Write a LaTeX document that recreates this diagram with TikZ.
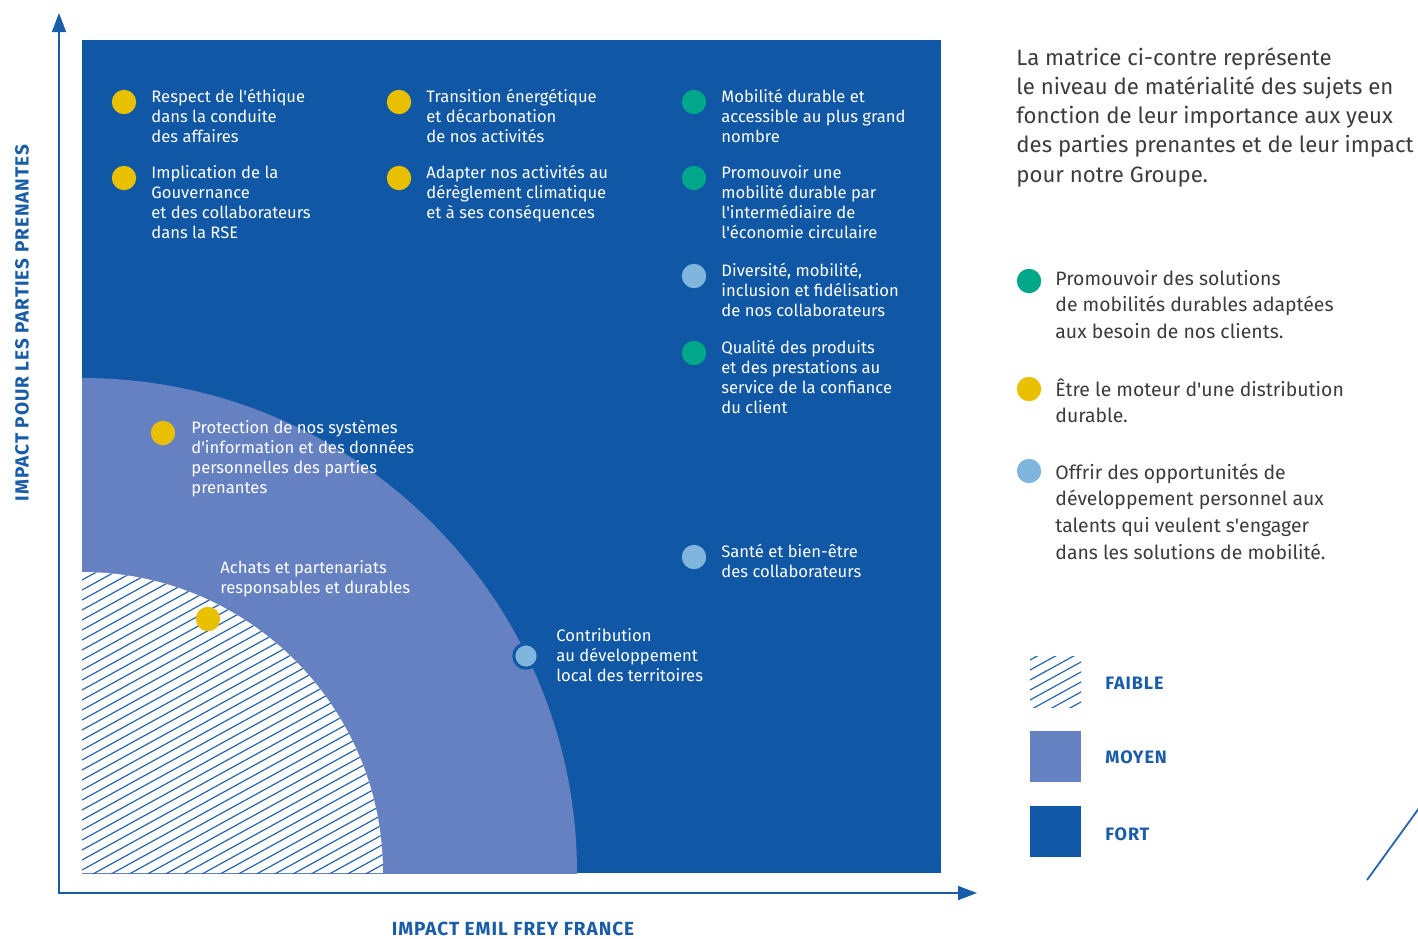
\documentclass[tikz,border=0pt]{standalone}
\usepackage{fontspec}
\setmainfont{Fira Sans}
\usetikzlibrary{arrows.meta}
\definecolor{mainblue}{RGB}{16,87,165}
\definecolor{midblue}{RGB}{102,129,194}
\definecolor{dotyellow}{RGB}{233,192,0}
\definecolor{dotgreen}{RGB}{0,167,137}
\definecolor{dotlight}{RGB}{128,182,222}
\definecolor{axisblue}{RGB}{24,92,170}
\definecolor{hatchblue}{RGB}{40,100,175}
\definecolor{greytext}{RGB}{60,60,60}
\newcommand{\lns}[1]{\begin{tabular}[t]{@{}l@{}}#1\end{tabular}}
\newcommand{\ap}{\textquotesingle}
\begin{document}
\begin{tikzpicture}[x=0.5pt,y=-0.5pt,
  dot/.style={circle,inner sep=0pt,minimum size=12.2pt},
  ydot/.style={dot,fill=dotyellow},
  gdot/.style={dot,fill=dotgreen},
  ldot/.style={dot,fill=dotlight},
  itemtext/.style={anchor=base west,inner sep=0pt,text=white,font=\fontsize{8.3}{10.15}\selectfont},
  introtext/.style={anchor=base west,inner sep=0pt,text=greytext,font=\fontsize{11.1}{14.65}\selectfont},
  legtext/.style={anchor=base west,inner sep=0pt,text=greytext,font=\fontsize{9.7}{13.35}\selectfont},
  axislabel/.style={inner sep=0pt,text=axisblue,font=\bfseries\fontsize{9.5}{10}\selectfont\addfontfeatures{LetterSpace=5}},
  levellabel/.style={anchor=base west,inner sep=0pt,text=axisblue,font=\bfseries\fontsize{9}{10}\selectfont\addfontfeatures{LetterSpace=5}},
  hatchline/.style={draw=hatchblue,line width=0.6pt},
  axisline/.style={draw=axisblue,line width=0.75pt},
]
\useasboundingbox (0,0) rectangle (1418,938);

% main matrix
\fill[mainblue] (82,40) rectangle (941,873);
\begin{scope}
  \clip (82,40) rectangle (941,873);
  \fill[midblue] (82,873) circle[radius=495];
  \clip (82,873) circle[radius=301];
  \fill[white] (82,560) rectangle (400,873);
  \foreach \k in {0,...,50} \draw[hatchline] (82,560+10*\k) -- ++(420,-231);
\end{scope}

% axes
\coordinate (O) at (59,893);
\coordinate (ytop) at (59,13);
\coordinate (xend) at (977,893);
\draw[axisline,{Triangle[length=9.5pt,width=7pt]}-{Triangle[length=9.5pt,width=7pt]}] (ytop) -- (O) -- (xend);
\node[axislabel,rotate=90,anchor=base] (ylab) at (28.5,323) {IMPACT POUR LES PARTIES PRENANTES};
\node[axislabel,anchor=base] (xlab) at (513,935) {IMPACT EMIL FREY FRANCE};

% items column 1
\node[ydot] (d1) at (124,102) {};
\node[itemtext] (t1) at (151,102) {\lns{Respect de l\ap éthique\\dans la conduite\\des affaires}};
\node[ydot] (d2) at (124,178) {};
\node[itemtext] (t2) at (151,178) {\lns{Implication de la\\Gouvernance\\et des collaborateurs\\dans la RSE}};
% column 2
\node[ydot] (d3) at (399,102) {};
\node[itemtext] (t3) at (426,102) {\lns{Transition énergétique\\et décarbonation\\de nos activités}};
\node[ydot] (d4) at (399,178) {};
\node[itemtext] (t4) at (426,178) {\lns{Adapter nos activités au\\dérèglement climatique\\et à ses conséquences}};
% column 3
\node[gdot] (d5) at (694,102) {};
\node[itemtext] (t5) at (721,102) {\lns{Mobilité durable et\\accessible au plus grand\\nombre}};
\node[gdot] (d6) at (694,178) {};
\node[itemtext] (t6) at (721,178) {\lns{Promouvoir une\\mobilité durable par\\l\ap intermédiaire de\\l\ap économie circulaire}};
\node[ldot] (d7) at (694,276) {};
\node[itemtext] (t7) at (721,276) {\lns{Diversité, mobilité,\\inclusion et fidélisation\\de nos collaborateurs}};
\node[gdot] (d8) at (694,353) {};
\node[itemtext] (t8) at (721,353) {\lns{Qualité des produits\\et des prestations au\\service de la confiance\\du client}};
\node[ldot] (d9) at (694,557) {};
\node[itemtext] (t9) at (721,557) {\lns{Santé et bien-être\\des collaborateurs}};
% inner items
\node[ydot] (d10) at (163,433) {};
\node[itemtext] (t10) at (191,433) {\lns{Protection de nos systèmes\\d\ap information et des données\\personnelles des parties\\prenantes}};
\node[ydot] (d11) at (208,619) {};
\node[itemtext] (t11) at (220,573) {\lns{Achats et partenariats\\responsables et durables}};
\node[ldot,draw=mainblue,line width=1.5pt] (d12) at (526,656) {};
\node[itemtext] (t12) at (556,641) {\lns{Contribution\\au développement\\local des territoires}};

% intro text
\node[introtext] (intro) at (1016,65) {\lns{La matrice ci-contre représente\\le niveau de matérialité des sujets en\\fonction de leur importance aux yeux\\des parties prenantes et de leur impact\\pour notre Groupe.}};

% colour legend
\node[gdot] (lg1) at (1029,281) {};
\node[legtext] (lt1) at (1055,285) {\lns{Promouvoir des solutions\\de mobilités durables adaptées\\aux besoin de nos clients.}};
\node[ydot] (lg2) at (1029,389) {};
\node[legtext] (lt2) at (1055,396) {\lns{Être le moteur d\ap une distribution\\durable.}};
\node[ldot] (lg3) at (1029,471) {};
\node[legtext] (lt3) at (1055,479) {\lns{Offrir des opportunités de\\développement personnel aux\\talents qui veulent s\ap engager\\dans les solutions de mobilité.}};

% level legend
\begin{scope}
  \clip (1030,656) rectangle (1081,707);
  \foreach \k in {0,...,12} \draw[hatchline] (1030,650+10*\k) -- ++(70,-38.5);
\end{scope}
\node[levellabel] (lv1) at (1105,689) {FAIBLE};
\fill[midblue] (1030,731) rectangle (1081,782);
\node[levellabel] (lv2) at (1105,763) {MOYEN};
\fill[mainblue] (1030,806) rectangle (1081,857);
\node[levellabel] (lv3) at (1105,840) {FORT};

% decorative stroke
\coordinate (s1) at (1367,880);
\coordinate (s2) at (1422,804);
\draw[hatchblue,line width=0.9pt] (s1) -- (s2);
\end{tikzpicture}
\end{document}
